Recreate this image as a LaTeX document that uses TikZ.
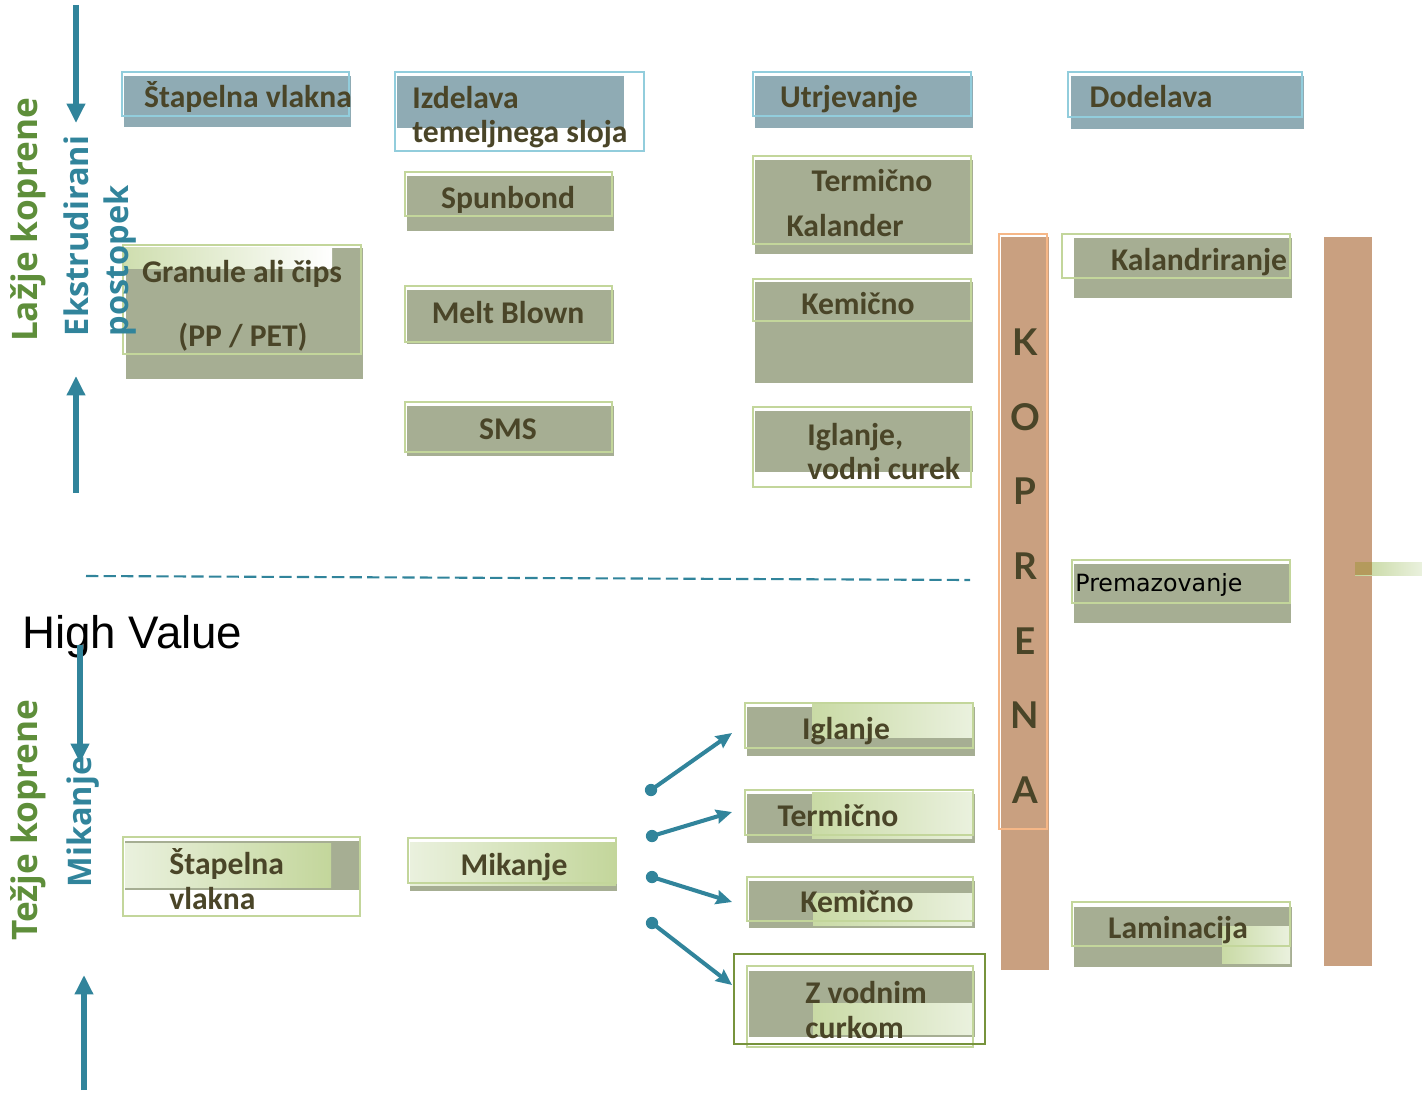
\documentclass[tikz,border=0pt]{standalone}
\usepackage{fontspec}
\setmainfont{Carlito}
\newfontfamily\sidefont{Open Sans}
\newfontfamily\titlefont{Liberation Sans}
\newfontfamily\plainfont{DejaVu Sans}
\newfontfamily\letterfont{Lato}
\usepackage{tikz}
\usetikzlibrary{arrows.meta, positioning}
\usepackage{xcolor}
\definecolor{headblue}{HTML}{8FABB4}
\definecolor{headline}{HTML}{92CDDC}
\definecolor{sage}{HTML}{A6AE93}
\definecolor{sageline}{HTML}{C3D69B}
\definecolor{sagelight}{HTML}{EAF1DE}
\definecolor{olivetext}{HTML}{4A4528}
\definecolor{clay}{HTML}{C9A080}
\definecolor{clayline}{HTML}{F6B787}
\definecolor{claystrip}{HTML}{B49A5C}
\definecolor{tealblue}{HTML}{31849B}
\definecolor{leafgreen}{HTML}{5E8E3A}
\definecolor{darkline}{HTML}{77933C}

\tikzset{
  headfill/.style={fill=headblue},
  headframe/.style={draw=headline, line width=1.3pt},
  sagefill/.style={fill=sage},
  sageframe/.style={draw=sageline, line width=1.5pt},
  glowleft/.style={left color=sagelight, right color=sageline},
  glowright/.style={left color=sageline!90, right color=sagelight},
  boxtext/.style={text=olivetext, font=\bfseries\fontsize{18}{20}\selectfont, inner sep=0pt, anchor=base},
  sidetext/.style={font=\sidefont\bfseries\fontsize{20}{22}\selectfont, text=leafgreen, rotate=90, inner sep=0pt},
  bluetext/.style={font=\sidefont\bfseries\fontsize{18.5}{22.5}\selectfont, text=tealblue, rotate=90, inner sep=0pt, align=left},
  flow/.style={-{Triangle[length=11pt,width=10pt]}, tealblue, line width=3.6pt},
  pick/.style={-{Stealth[length=9pt,width=8pt,inset=1pt]}, tealblue, line width=2.3pt, shorten <=-2pt},
  dot/.style={circle, fill=tealblue, inner sep=0pt, minimum size=7pt}
}

\begin{document}
\begin{tikzpicture}[x=0.02cm, y=-0.02cm]
    \useasboundingbox (0,0) rectangle (1422,1095);

    % Column 1
    \fill[headfill] (124,76) rectangle (351,127);
    \draw[headframe] (122,72) rectangle (349,116);
    \node[boxtext] (stapel) at (248,108) {Štapelna vlakna};

    \fill[sagefill] (126,248) rectangle (363,379);
    \shade[left color=sageline!80, right color=white] (124,247) rectangle (332,268);
    \draw[sageframe] (123,245) rectangle (361,354);
    \node[boxtext] (granule) at (242,282) {Granule ali čips};
    \node[boxtext] (ppet) at (243,346) {(PP / PET)};

    % Side labels
    \node[sidetext] (lazje) at (28,220) {Lažje koprene};
    \node[bluetext] (ekstr) at (100,236) {Ekstrudirani\\postopek};
    \node[sidetext] (tezje) at (28,820) {Težje koprene};
    \node[bluetext] (mikside) at (83,822) {Mikanje};
    \node[anchor=base west, inner sep=0pt, font=\titlefont\fontsize{26}{30}\selectfont] (highval) at (22,648) {High Value};

    % Side arrows
    \coordinate (topA) at (76,5);
    \coordinate (topB) at (76,123);
    \coordinate (midA) at (76,493);
    \coordinate (midB) at (76,376);
    \coordinate (lowA) at (80,645);
    \coordinate (lowB) at (80,763);
    \coordinate (botA) at (84,1090);
    \coordinate (botB) at (84,975);
    \draw[flow] (topA) -- (topB);
    \draw[flow] (midA) -- (midB);
    \draw[flow] (lowA) -- (lowB);
    \draw[flow] (botA) -- (botB);

    % Dashed border
    \coordinate (dashL) at (86,576);
    \coordinate (dashR) at (970,580);
    \draw[tealblue, line width=1.2pt, dash pattern=on 7pt off 3pt] (dashL) -- (dashR);

    % Column 2
    \fill[headfill] (397,76) rectangle (624,128);
    \draw[headframe] (395,72) rectangle (644,151);
    \node[boxtext, anchor=base west] (izdel) at (412,109) {Izdelava};
    \node[boxtext, anchor=base west] (temelj) at (412,142) {temeljnega sloja};

    \fill[sagefill] (407,176) rectangle (614,231);
    \draw[sageframe] (405,172) rectangle (612,216);
    \node[boxtext] (spun) at (508,208) {Spunbond};

    \fill[sagefill] (407,290) rectangle (614,344);
    \draw[sageframe] (405,286) rectangle (612,342);
    \node[boxtext] (melt) at (508,323) {Melt Blown};

    \fill[sagefill] (407,406) rectangle (614,456);
    \draw[sageframe] (405,402) rectangle (612,452);
    \node[boxtext] (sms) at (508,439) {SMS};

    % Column 3
    \fill[headfill] (755,76) rectangle (973,128);
    \draw[headframe] (753,72) rectangle (971,116);
    \node[boxtext] (utrj) at (849,108) {Utrjevanje};

    \fill[sagefill] (755,160) rectangle (973,254);
    \draw[sageframe] (753,156) rectangle (971,244);
    \node[boxtext] (termA) at (872,191) {Termično};
    \node[boxtext] (kaland) at (845,236) {Kalander};

    \fill[sagefill] (755,282) rectangle (973,383);
    \draw[sageframe] (753,279) rectangle (971,321);
    \node[boxtext] (kemA) at (858,314) {Kemično};

    \fill[sagefill] (755,411) rectangle (973,472);
    \draw[sageframe] (753,407) rectangle (971,487);
    \node[boxtext, anchor=base west] (iglA) at (807,445) {Iglanje,};
    \node[boxtext, anchor=base west] (vodni) at (807,479) {vodni curek};

    % Column 4
    \fill[headfill] (1071,76) rectangle (1304,129);
    \draw[headframe] (1068,72) rectangle (1302,117);
    \node[boxtext] (dodel) at (1151,108) {Dodelava};

    % Bars
    \fill[clay] (1001,237) rectangle (1049,970);
    \draw[clayline, line width=1.5pt] (999,234) rectangle (1047,829);
    \node[inner sep=0pt, align=center, text=olivetext, font=\letterfont\bfseries\fontsize{21}{42.5}\selectfont] (kopr) at (1025,566) {K\\O\\P\\R\\E\\N\\A};
    \fill[clay] (1324,237) rectangle (1372,966);
    \shade[left color=sageline, right color=sagelight] (1355,562) rectangle (1422,575);
    \fill[claystrip] (1355,562) rectangle (1372,575);

    \fill[sagefill] (1074,238) rectangle (1292,298);
    \draw[sageframe] (1062,234) rectangle (1290,278);
    \node[boxtext] (kalandr) at (1199,270) {Kalandriranje};

    \fill[sagefill] (1074,564) rectangle (1291,623);
    \draw[sageframe] (1072,560) rectangle (1290,603);
    \node[anchor=base west, inner sep=0pt, font=\plainfont\fontsize{13.5}{15}\selectfont] (premaz) at (1075,591) {Premazovanje};

    \fill[sagefill] (1074,907) rectangle (1292,967);
    \shade[glowright] (1222,926) rectangle (1290,963);
    \draw[sageframe] (1072,902) rectangle (1290,946);
    \node[boxtext] (lamin) at (1178,938) {Laminacija};

    % Lower row
    \fill[sagefill] (125,841) rectangle (361,890);
    \shade[glowleft] (125,843) rectangle (331,887);
    \draw[sageframe] (123,837) rectangle (360,916);
    \node[boxtext, anchor=base west] (stapelB) at (169,874) {Štapelna};
    \node[boxtext, anchor=base west] (vlakna) at (169,909) {vlakna};

    \fill[sagefill] (410,846) rectangle (617,891);
    \shade[glowleft] (410,842) rectangle (616,885);
    \draw[sageframe] (408,838) rectangle (616,883);
    \node[boxtext] (mikan) at (514,875) {Mikanje};

    \fill[sagefill] (747,707) rectangle (975,756);
    \shade[glowright] (812,703) rectangle (972,737);
    \draw[sageframe] (745,703) rectangle (973,748);
    \node[boxtext] (iglB) at (846,739) {Iglanje};

    \fill[sagefill] (747,794) rectangle (975,843);
    \shade[glowright] (812,792) rectangle (972,838);
    \draw[sageframe] (745,790) rectangle (973,835);
    \node[boxtext] (termB) at (838,826) {Termično};

    \fill[sagefill] (749,881) rectangle (975,928);
    \shade[glowright] (813,893) rectangle (972,925);
    \draw[sageframe] (747,877) rectangle (973,921);
    \node[boxtext] (kemB) at (857,912) {Kemično};

    \fill[sagefill] (749,971) rectangle (975,1037);
    \shade[glowright] (813,1003) rectangle (972,1034);
    \draw[sageframe] (747,966) rectangle (973,1047);
    \draw[darkline, line width=0.8pt] (734,954) rectangle (985,1044);
    \node[boxtext, anchor=base west] (zvod) at (805,1003) {Z vodnim};
    \node[boxtext, anchor=base west] (curk) at (805,1038) {curkom};

    % Branch arrows
    \node[dot] (d1) at (651,790) {};
    \node[dot] (d2) at (652,836) {};
    \node[dot] (d3) at (652,877) {};
    \node[dot] (d4) at (652,923) {};
    \coordinate (t1) at (732,733);
    \coordinate (t2) at (732,812);
    \coordinate (t3) at (732,902);
    \coordinate (t4) at (732,985);
    \draw[pick] (d1.center) -- (t1);
    \draw[pick] (d2.center) -- (t2);
    \draw[pick] (d3.center) -- (t3);
    \draw[pick] (d4.center) -- (t4);
\end{tikzpicture}
\end{document}
